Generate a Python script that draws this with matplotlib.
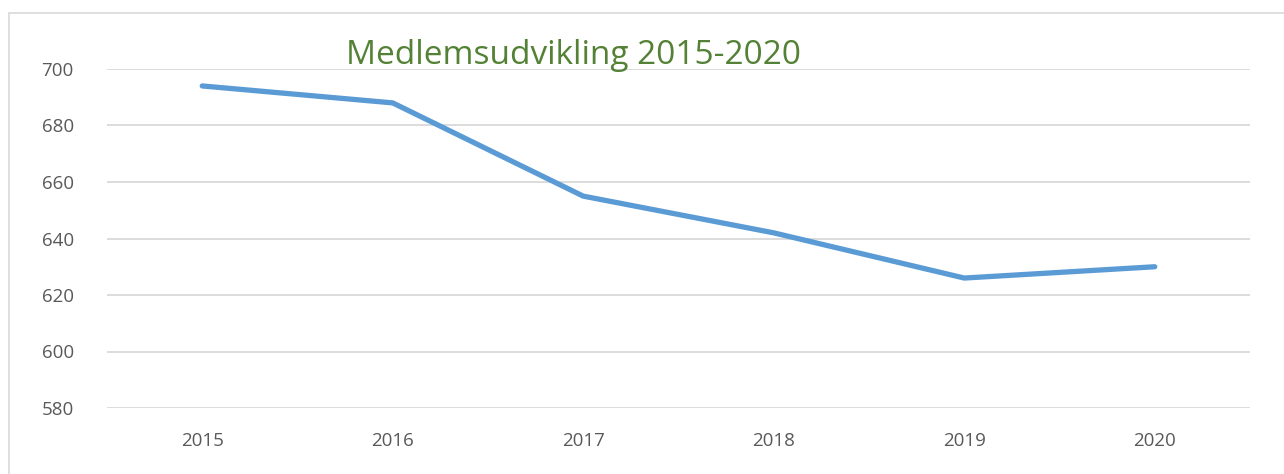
import matplotlib.pyplot as plt
from matplotlib.patches import Rectangle

years = ["2015", "2016", "2017", "2018", "2019", "2020"]
members = [694, 688, 655, 642, 626, 630]
yticks = [580, 600, 620, 640, 660, 680, 700]

plt.rcParams['font.family'] = ['Open Sans', 'DejaVu Sans']

fig = plt.figure(figsize=(12.84, 4.74), dpi=100)
ax = fig.add_axes([107 / 1284, 1 - 408 / 474, (1250 - 107) / 1284, (408 - 69) / 474])

x = list(range(len(years)))
ax.plot(x, members, color='#5b9bd5', linewidth=3.8, solid_capstyle='round', solid_joinstyle='round', zorder=3)

ax.set_xlim(-0.5, len(years) - 0.5)
ax.set_ylim(580, 700)
ax.set_xticks(x)
ax.set_xticklabels(years)
ax.set_yticks(yticks)
ax.grid(axis='y', color='#d9d9d9', linewidth=1.3)
ax.set_axisbelow(True)
for s in ax.spines.values():
    s.set_visible(False)
ax.tick_params(length=0, labelsize=13.5, colors='#595959')
ax.tick_params(axis='x', pad=17)
ax.tick_params(axis='y', pad=24)

fig.text(573 / 1284, 1 - 64 / 474, "Medlemsudvikling 2015-2020", color='#538135',
         fontsize=24, ha='center', va='baseline')

fig.patches.append(Rectangle((9 / 1284, -0.1), 1.2, 1 - 13 / 474 + 0.1, transform=fig.transFigure,
                             fill=False, edgecolor='#d9d9d9', linewidth=1.2))

fig.savefig("out.png", dpi=100)
